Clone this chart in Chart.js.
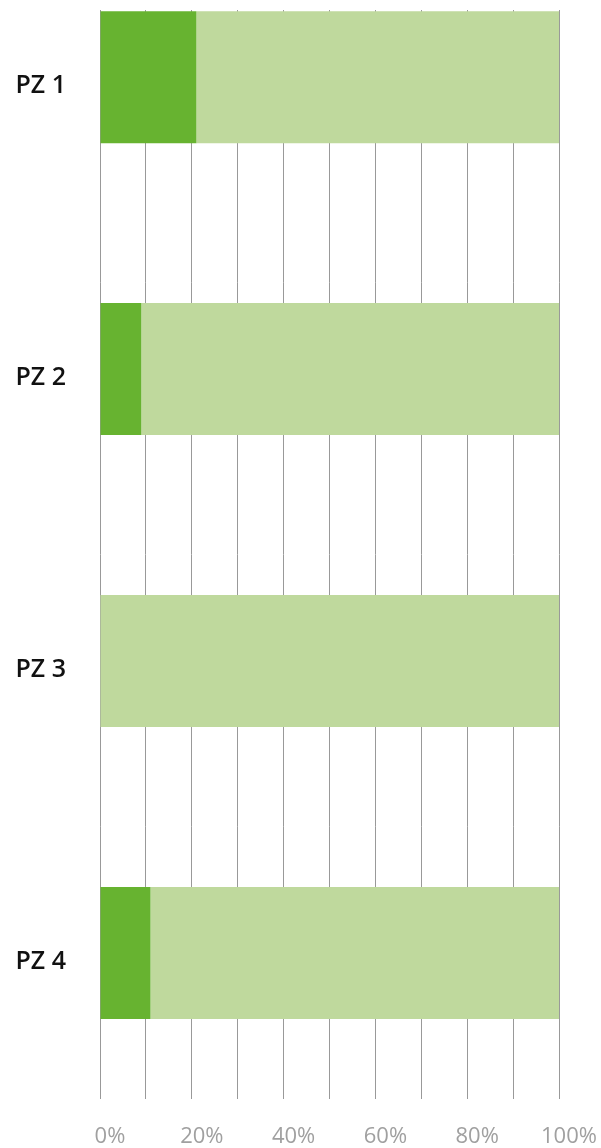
<!DOCTYPE html>
<html>
<head>
<meta charset="utf-8">
<script src="https://cdn.jsdelivr.net/npm/chart.js@4"></script>
<style>
  html, body { margin: 0; padding: 0; background: #fff; }
  #wrap { width: 601px; height: 1148px; }
</style>
</head>
<body>
<div id="wrap"><canvas id="bar-chart"></canvas></div>
<script>
// zones and their share (percent)
const zones = ['PZ 1', 'PZ 2', 'PZ 3', 'PZ 4'];
const zonePos = [0, 1, 2, 3];
const share = [21, 9, 0, 11];
const rest = [79, 91, 100, 89];
const xTicks = [0, 20, 40, 60, 80, 100];

new Chart(document.getElementById('bar-chart'), {
  type: 'bar',
  data: {
    datasets: [
      {
        label: 'share',
        data: zonePos.map((p, i) => ({ x: share[i], y: p })),
        backgroundColor: '#67b330',
        borderWidth: 0,
        grouped: false,
        categoryPercentage: 1,
        barPercentage: 0.452
      },
      {
        label: 'rest',
        data: zonePos.map((p, i) => ({ x: rest[i], y: p })),
        backgroundColor: '#bfd99d',
        borderWidth: 0,
        grouped: false,
        categoryPercentage: 1,
        barPercentage: 0.452
      }
    ]
  },
  options: {
    indexAxis: 'y',
    responsive: true,
    maintainAspectRatio: false,
    animation: false,
    layout: { padding: { top: 10, right: 42, left: 0, bottom: 0 } },
    plugins: { legend: { display: false }, tooltip: { enabled: false } },
    scales: {
      x: {
        type: 'linear',
        stacked: true,
        min: 0,
        max: 100,
        border: { display: false },
        grid: { color: '#999', lineWidth: 1, drawTicks: false },
        afterFit: function (scale) {
          scale.height = 49;
          scale.paddingLeft = 0;
          scale.paddingRight = 0;
        },
        ticks: {
          stepSize: 10,
          autoSkip: false,
          maxRotation: 0,
          padding: 25,
          labelOffset: 10,
          color: '#a0a0a0',
          font: { family: 'Open Sans', size: 22 },
          callback: function (v) { return xTicks.includes(v) ? v + '%' : ''; }
        }
      },
      y: {
        type: 'linear',
        reverse: true,
        offset: false,
        min: -0.23,
        max: 3.5,
        border: { display: false },
        grid: { display: false, drawTicks: false },
        afterFit: function (scale) {
          scale.width = 100;
          scale.paddingTop = 0;
          scale.paddingBottom = 0;
        },
        afterBuildTicks: function (scale) {
          scale.ticks = zonePos.map(p => ({ value: p }));
        },
        ticks: {
          padding: 34,
          labelOffset: 9,
          color: '#111',
          font: { family: 'Open Sans', size: 25, weight: '600' },
          callback: function (v) { return zones[v]; }
        }
      }
    }
  }
});
</script>
</body>
</html>
